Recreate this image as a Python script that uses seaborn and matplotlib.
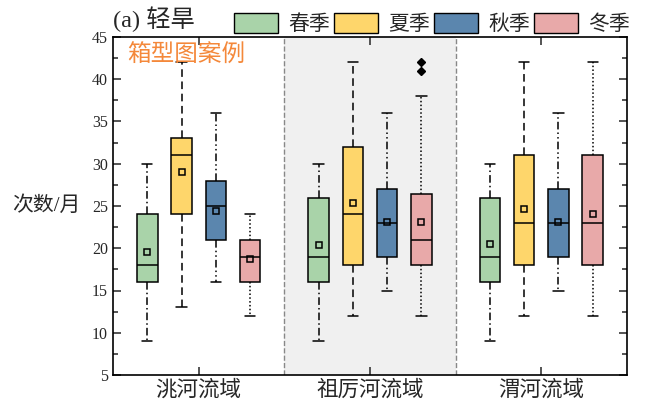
import matplotlib
matplotlib.use('Agg')
import matplotlib.pyplot as plt
from matplotlib.patches import Patch
from matplotlib.ticker import MultipleLocator
import seaborn as sns

# basins and seasons
basins = ['洮河流域', '祖厉河流域', '渭河流域']
seasons = ['春季', '夏季', '秋季', '冬季']
season_colors = ['#a9d3a9', '#fed66b', '#5b86ae', '#e8a9a9']

# summary stats per season, one value per basin
spring_low = [9, 9, 9]
spring_q1 = [16, 16, 16]
spring_med = [18, 19, 19]
spring_q3 = [24, 26, 26]
spring_high = [30, 30, 30]
spring_mean = [19.6, 20.4, 20.5]
spring_out = [[], [], []]

summer_low = [13, 12, 12]
summer_q1 = [24, 18, 18]
summer_med = [31, 24, 23]
summer_q3 = [33, 32, 31]
summer_high = [42, 42, 42]
summer_mean = [29.0, 25.4, 24.7]
summer_out = [[], [], []]

autumn_low = [16, 15, 15]
autumn_q1 = [21, 19, 19]
autumn_med = [25, 23, 23]
autumn_q3 = [28, 27, 27]
autumn_high = [36, 36, 36]
autumn_mean = [24.4, 23.1, 23.1]
autumn_out = [[], [], []]

winter_low = [12, 12, 12]
winter_q1 = [16, 18, 18]
winter_med = [19, 21, 23]
winter_q3 = [21, 26.4, 31]
winter_high = [24, 38, 42]
winter_mean = [18.7, 23.1, 24.0]
winter_out = [[], [41, 42], []]

season_data = [
    (spring_low, spring_q1, spring_med, spring_q3, spring_high, spring_mean, spring_out),
    (summer_low, summer_q1, summer_med, summer_q3, summer_high, summer_mean, summer_out),
    (autumn_low, autumn_q1, autumn_med, autumn_q3, autumn_high, autumn_mean, autumn_out),
    (winter_low, winter_q1, winter_med, winter_q3, winter_high, winter_mean, winter_out),
]
whisker_styles = [(0, (5, 2, 1, 2)), (0, (5, 3)), (0, (5, 2, 1, 2, 1, 2)), (0, (1, 1.5))]
offsets = [-0.3, -0.1, 0.1, 0.3]

sns.set_style('ticks')
plt.rcParams['font.family'] = ['Liberation Serif', 'Noto Sans CJK SC']
plt.rcParams['axes.unicode_minus'] = False

fig = plt.figure(figsize=(6.64, 4.09), dpi=100)
ax = fig.add_axes([113 / 664, 1 - 375 / 409, 514 / 664, 338 / 409])

# shaded middle basin
ax.axvspan(0.5, 1.5, color='#f0f0f0', zorder=0, lw=0)
for xv in (0.5, 1.5):
    ax.axvline(xv, color='#888888', ls='--', lw=1, zorder=1)

for k, (lo, q1, med, q3, hi, mean, out) in enumerate(season_data):
    stats = []
    for i in range(len(basins)):
        stats.append(dict(whislo=lo[i], q1=q1[i], med=med[i], q3=q3[i],
                          whishi=hi[i], mean=mean[i], fliers=out[i]))
    pos = [i + offsets[k] for i in range(len(basins))]
    ax.bxp(stats, positions=pos, widths=0.12, capwidths=0.06,
           patch_artist=True, showmeans=True, manage_ticks=False,
           boxprops=dict(facecolor=season_colors[k], edgecolor='black', lw=1.1),
           medianprops=dict(color='black', lw=1.1),
           whiskerprops=dict(color='black', lw=1.1, linestyle=whisker_styles[k]),
           capprops=dict(color='black', lw=1.1),
           meanprops=dict(marker='s', markerfacecolor='none',
                          markeredgecolor='black', markersize=5, markeredgewidth=1.1),
           flierprops=dict(marker='D', markerfacecolor='black',
                           markeredgecolor='black', markersize=4))

ax.set_xlim(-0.5, 2.5)
ax.set_ylim(5, 45)
ax.set_xticks(range(len(basins)))
ax.set_xticklabels(basins, fontsize=15.5)
ax.yaxis.set_major_locator(MultipleLocator(5))
ax.yaxis.set_minor_locator(MultipleLocator(2.5))
ax.tick_params(axis='both', which='both', direction='in', top=True, right=True)
ax.tick_params(axis='both', which='major', length=6, width=1.1)
ax.tick_params(axis='y', which='minor', length=3.5, width=1.1)
ax.tick_params(axis='y', labelsize=11.5)
ax.tick_params(axis='x', pad=4)
for s in ax.spines.values():
    s.set_linewidth(1.2)
    s.set_color('black')

ax.set_ylabel('次数/月', fontsize=15, rotation=0, labelpad=33, va='center')

fig.text(113 / 664, 1 - 19 / 409, '(a) 轻旱', fontsize=17.5, va='center', ha='left')
ax.text(0.027, 0.945, '箱型图案例', transform=ax.transAxes, fontsize=17,
        color='#f4883a', family='Noto Sans CJK SC', va='center', ha='left')

handles = [Patch(facecolor=c, edgecolor='black', lw=1) for c in season_colors]
fig.legend(handles, seasons, ncol=4, loc='center right',
           bbox_to_anchor=(630 / 664, 1 - 24 / 409), frameon=False,
           fontsize=15, handlelength=2.1, handleheight=1.1,
           handletextpad=0.5, columnspacing=0.2, borderaxespad=0, borderpad=0)

fig.savefig('out.png', dpi=100)
